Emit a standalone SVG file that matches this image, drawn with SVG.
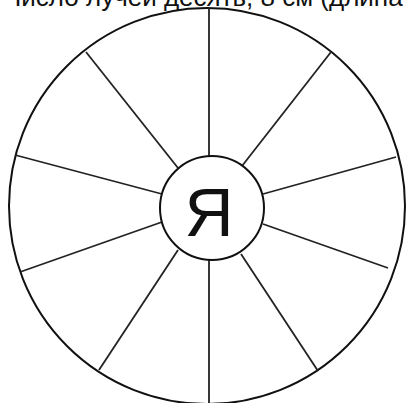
<svg xmlns="http://www.w3.org/2000/svg" width="406" height="403" viewBox="0 0 406 403">
<style>
.ln{stroke:#222;stroke-width:1.8;fill:none;stroke-linecap:butt}
.c{stroke:#111;stroke-width:2;fill:#fff}
.t{font-family:"Liberation Sans","Noto Sans",sans-serif;fill:#111}
</style>
<rect width="406" height="403" fill="#fff"/>
<text class="t" x="4" y="6" font-size="26">Число лучей десять, 8 см (длина</text>
<g id="outer"><circle class="c" cx="207" cy="206" r="198"/></g>
<g id="spokes">
<line class="ln" x1="209" y1="8" x2="209" y2="157"/>
<line class="ln" x1="331" y1="52" x2="242" y2="166"/>
<line class="ln" x1="396" y1="157" x2="263" y2="194"/>
<line class="ln" x1="388" y1="268" x2="263" y2="224"/>
<line class="ln" x1="318" y1="371" x2="241" y2="254"/>
<line class="ln" x1="209" y1="403" x2="209" y2="260"/>
<line class="ln" x1="99" y1="370" x2="178" y2="250"/>
<line class="ln" x1="20" y1="272" x2="162" y2="222"/>
<line class="ln" x1="15" y1="155" x2="162" y2="194"/>
<line class="ln" x1="86" y1="52" x2="178" y2="168"/>
</g>
<g id="center">
<circle class="c" cx="212" cy="208" r="52"/>
<text class="t" x="209" y="236" font-size="68" text-anchor="middle">Я</text>
</g>
</svg>
